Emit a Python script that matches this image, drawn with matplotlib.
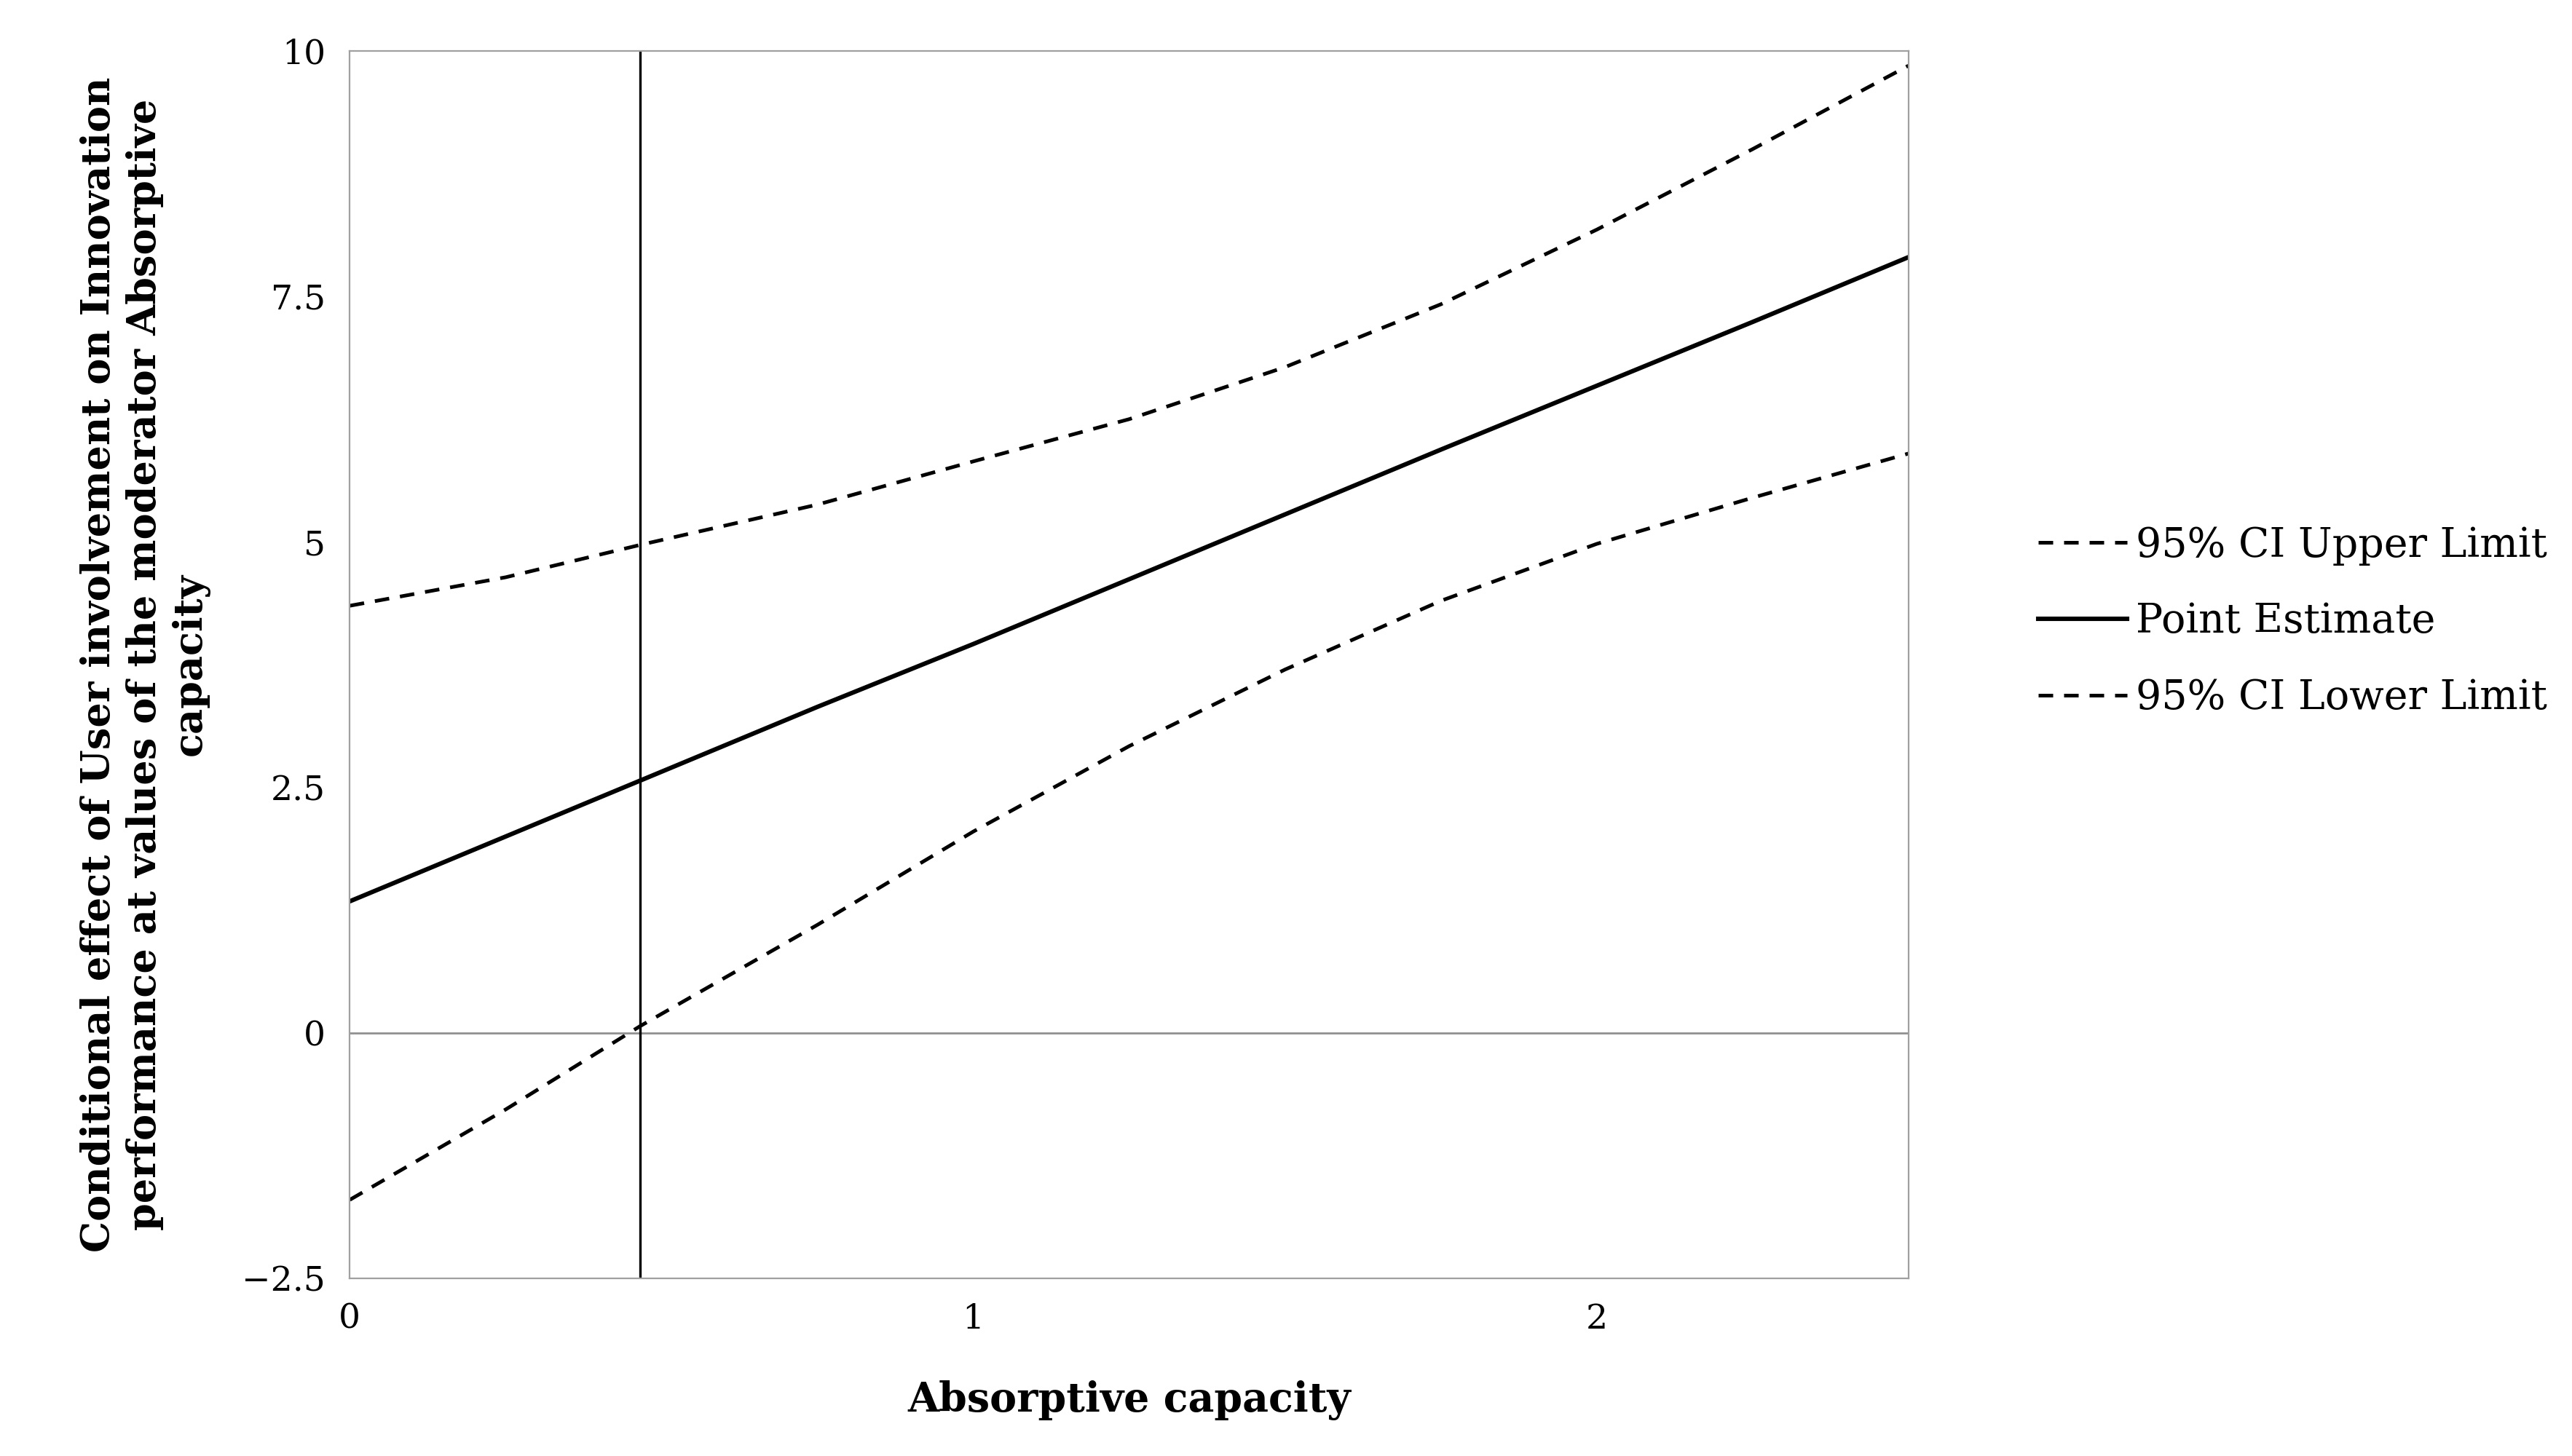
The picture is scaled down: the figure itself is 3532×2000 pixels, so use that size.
import matplotlib
matplotlib.use("Agg")
import matplotlib.pyplot as plt
import numpy as np

x_vals = [0, 0.25, 0.466, 0.75, 1.0, 1.25, 1.5, 1.75, 2.0, 2.25, 2.5]
upper = [4.35, 4.64, 4.97, 5.38, 5.82, 6.25, 6.78, 7.42, 8.18, 9.0, 9.85]
point = [1.34, 2.0, 2.57, 3.32, 3.96, 4.62, 5.28, 5.94, 6.59, 7.24, 7.9]
lower = [-1.7, -0.78, 0.07, 1.1, 2.05, 2.92, 3.7, 4.4, 4.98, 5.45, 5.9]
x_ticks = [0, 1, 2]
y_ticks = [-2.5, 0, 2.5, 5, 7.5, 10]
y_ticklabels = ["\u22122.5", "0", "2.5", "5", "7.5", "10"]
vline_x = 0.466

plt.rcParams['font.family'] = ['DejaVu Serif']
fig = plt.figure(figsize=(17.66, 10), dpi=200)
ax = fig.add_axes([0.136, 0.122, 0.606, 0.843])

ax.plot(x_vals, upper, color='black', ls=(0, (4, 3)), lw=1.8, label='95% CI Upper Limit')
ax.plot(x_vals, point, color='black', ls='-', lw=2.2, label='Point Estimate')
ax.plot(x_vals, lower, color='black', ls=(0, (4, 3)), lw=1.8, label='95% CI Lower Limit')
ax.axhline(0, color='#909090', lw=1.0)
ax.axvline(vline_x, color='black', lw=1.2)

ax.set_xlim(0, 2.5)
ax.set_ylim(-2.5, 10)
ax.set_xticks(x_ticks)
ax.set_yticks(y_ticks)
ax.set_yticklabels(y_ticklabels)
ax.tick_params(length=0, labelsize=17, pad=12)
for s in ax.spines.values():
    s.set_color('#a0a0a0')
ax.set_xlabel('Absorptive capacity', fontsize=20, fontweight='bold', labelpad=22)
ax.set_ylabel('Conditional effect of User involvement on Innovation\nperformance at values of the moderator Absorptive\ncapacity',
              fontsize=19.5, fontweight='bold', labelpad=16, linespacing=1.25)
ax.legend(loc='center left', bbox_to_anchor=(1.06, 0.535), frameon=False, fontsize=20,
          handlelength=2.2, handletextpad=0.2, labelspacing=0.9)
fig.savefig('out.png', dpi=200)
